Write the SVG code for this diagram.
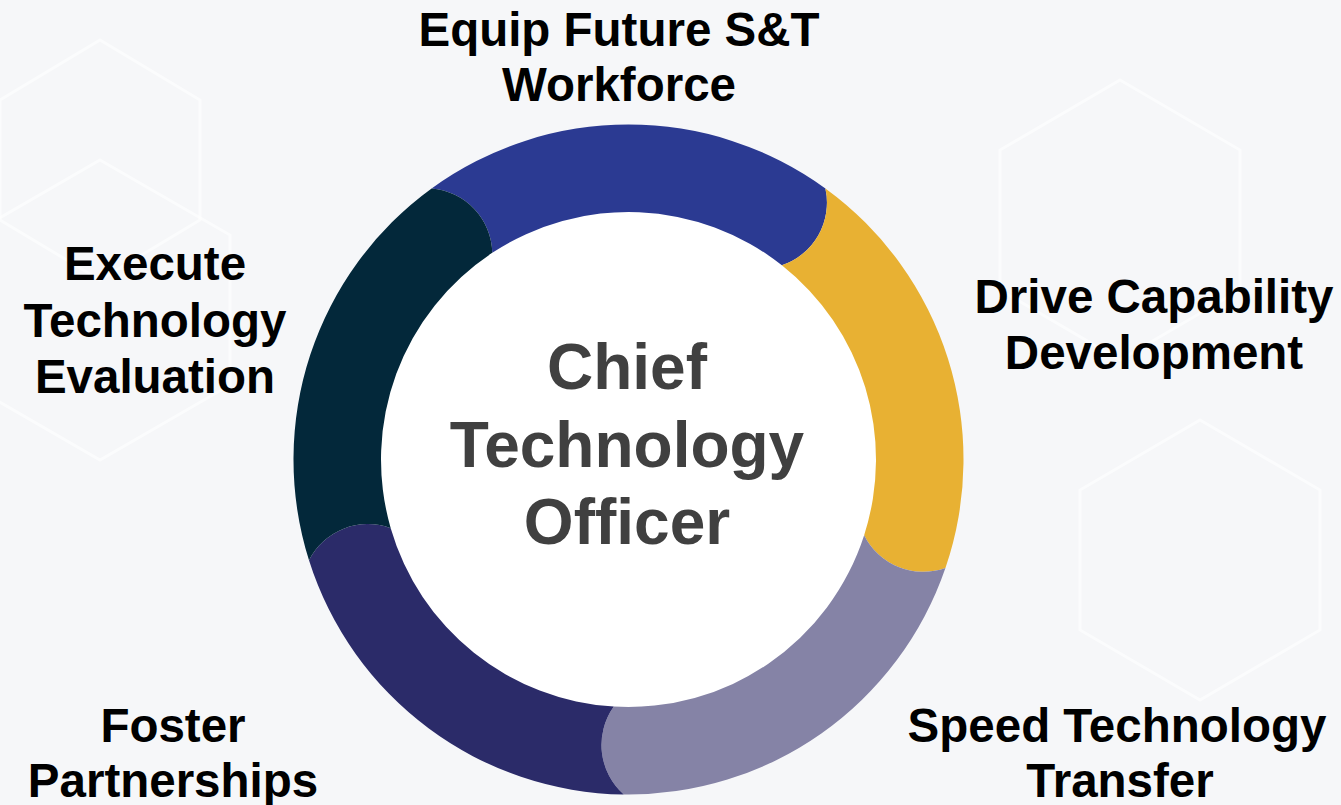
<svg xmlns="http://www.w3.org/2000/svg" width="1341" height="805" viewBox="0 0 1341 805">
<style>
.lbl{font-family:"Liberation Sans",Arial,sans-serif;font-weight:bold;font-size:47.5px;fill:#000;text-anchor:middle}
.ctr{font-family:"Liberation Sans",Arial,sans-serif;font-weight:bold;font-size:64px;fill:#404040;text-anchor:middle}
.hex{fill:none;stroke:#ffffff;stroke-width:3;opacity:0.6}
</style>
<rect x="0" y="0" width="1341" height="805" fill="#F6F7F9"/>
<g id="background">
<polygon class="hex" points="100,40 200,100 200,220 100,280 0,220 0,100"/>
<polygon class="hex" points="100,160 230,235 230,385 100,460 -30,385 -30,235"/>
<polygon class="hex" points="1120,80 1240,150 1240,290 1120,360 1000,290 1000,150"/>
<polygon class="hex" points="1200,420 1320,490 1320,630 1200,700 1080,630 1080,490"/>
</g>
<circle cx="628.5" cy="459.5" r="248" fill="#ffffff"/>
<g id="ring">
<g id="seg-workforce"><path fill="#2B3A92" d="M 431.59 188.48 A 335 335 0 0 1 825.41 188.48 A 66 66 0 0 1 781.87 265.25 A 247.5 247.5 0 0 0 492.26 252.87 A 66 66 0 0 0 431.59 188.48 Z"/></g>
<g id="seg-capability"><path fill="#E8B133" d="M 825.41 188.48 A 335 335 0 0 1 945.44 568.01 A 66 66 0 0 1 864.15 535.16 A 247.5 247.5 0 0 0 781.87 265.25 A 66 66 0 0 0 825.41 188.48 Z"/></g>
<g id="seg-transfer"><path fill="#8583A6" d="M 945.44 568.01 A 335 335 0 0 1 623.82 794.47 A 66 66 0 0 1 613.82 706.56 A 247.5 247.5 0 0 0 864.15 535.16 A 66 66 0 0 0 945.44 568.01 Z"/></g>
<g id="seg-partnerships"><path fill="#2B2B69" d="M 623.82 794.47 A 335 335 0 0 1 309.00 560.24 A 66 66 0 0 1 390.71 528.13 A 247.5 247.5 0 0 0 613.82 706.56 A 66 66 0 0 0 623.82 794.47 Z"/></g>
<g id="seg-evaluation"><path fill="#03283A" d="M 309.00 560.24 A 335 335 0 0 1 431.59 188.48 A 66 66 0 0 1 492.26 252.87 A 247.5 247.5 0 0 0 390.71 528.13 A 66 66 0 0 0 309.00 560.24 Z"/></g>
</g>
<g id="center">
<text class="ctr" x="627" y="389">Chief</text>
<text class="ctr" x="627" y="467">Technology</text>
<text class="ctr" x="627" y="544">Officer</text>
</g>
<g id="label-workforce">
<text class="lbl" x="619" y="46">Equip Future S&amp;T</text>
<text class="lbl" x="619" y="101">Workforce</text>
</g>
<g id="label-capability">
<text class="lbl" x="1154" y="313">Drive Capability</text>
<text class="lbl" x="1154" y="369">Development</text>
</g>
<g id="label-evaluation">
<text class="lbl" x="155" y="280">Execute</text>
<text class="lbl" x="155" y="337">Technology</text>
<text class="lbl" x="155" y="393">Evaluation</text>
</g>
<g id="label-partnerships">
<text class="lbl" x="173" y="742">Foster</text>
<text class="lbl" x="173" y="797">Partnerships</text>
</g>
<g id="label-transfer">
<text class="lbl" x="1117" y="742">Speed Technology</text>
<text class="lbl" x="1120" y="797">Transfer</text>
</g>
</svg>
